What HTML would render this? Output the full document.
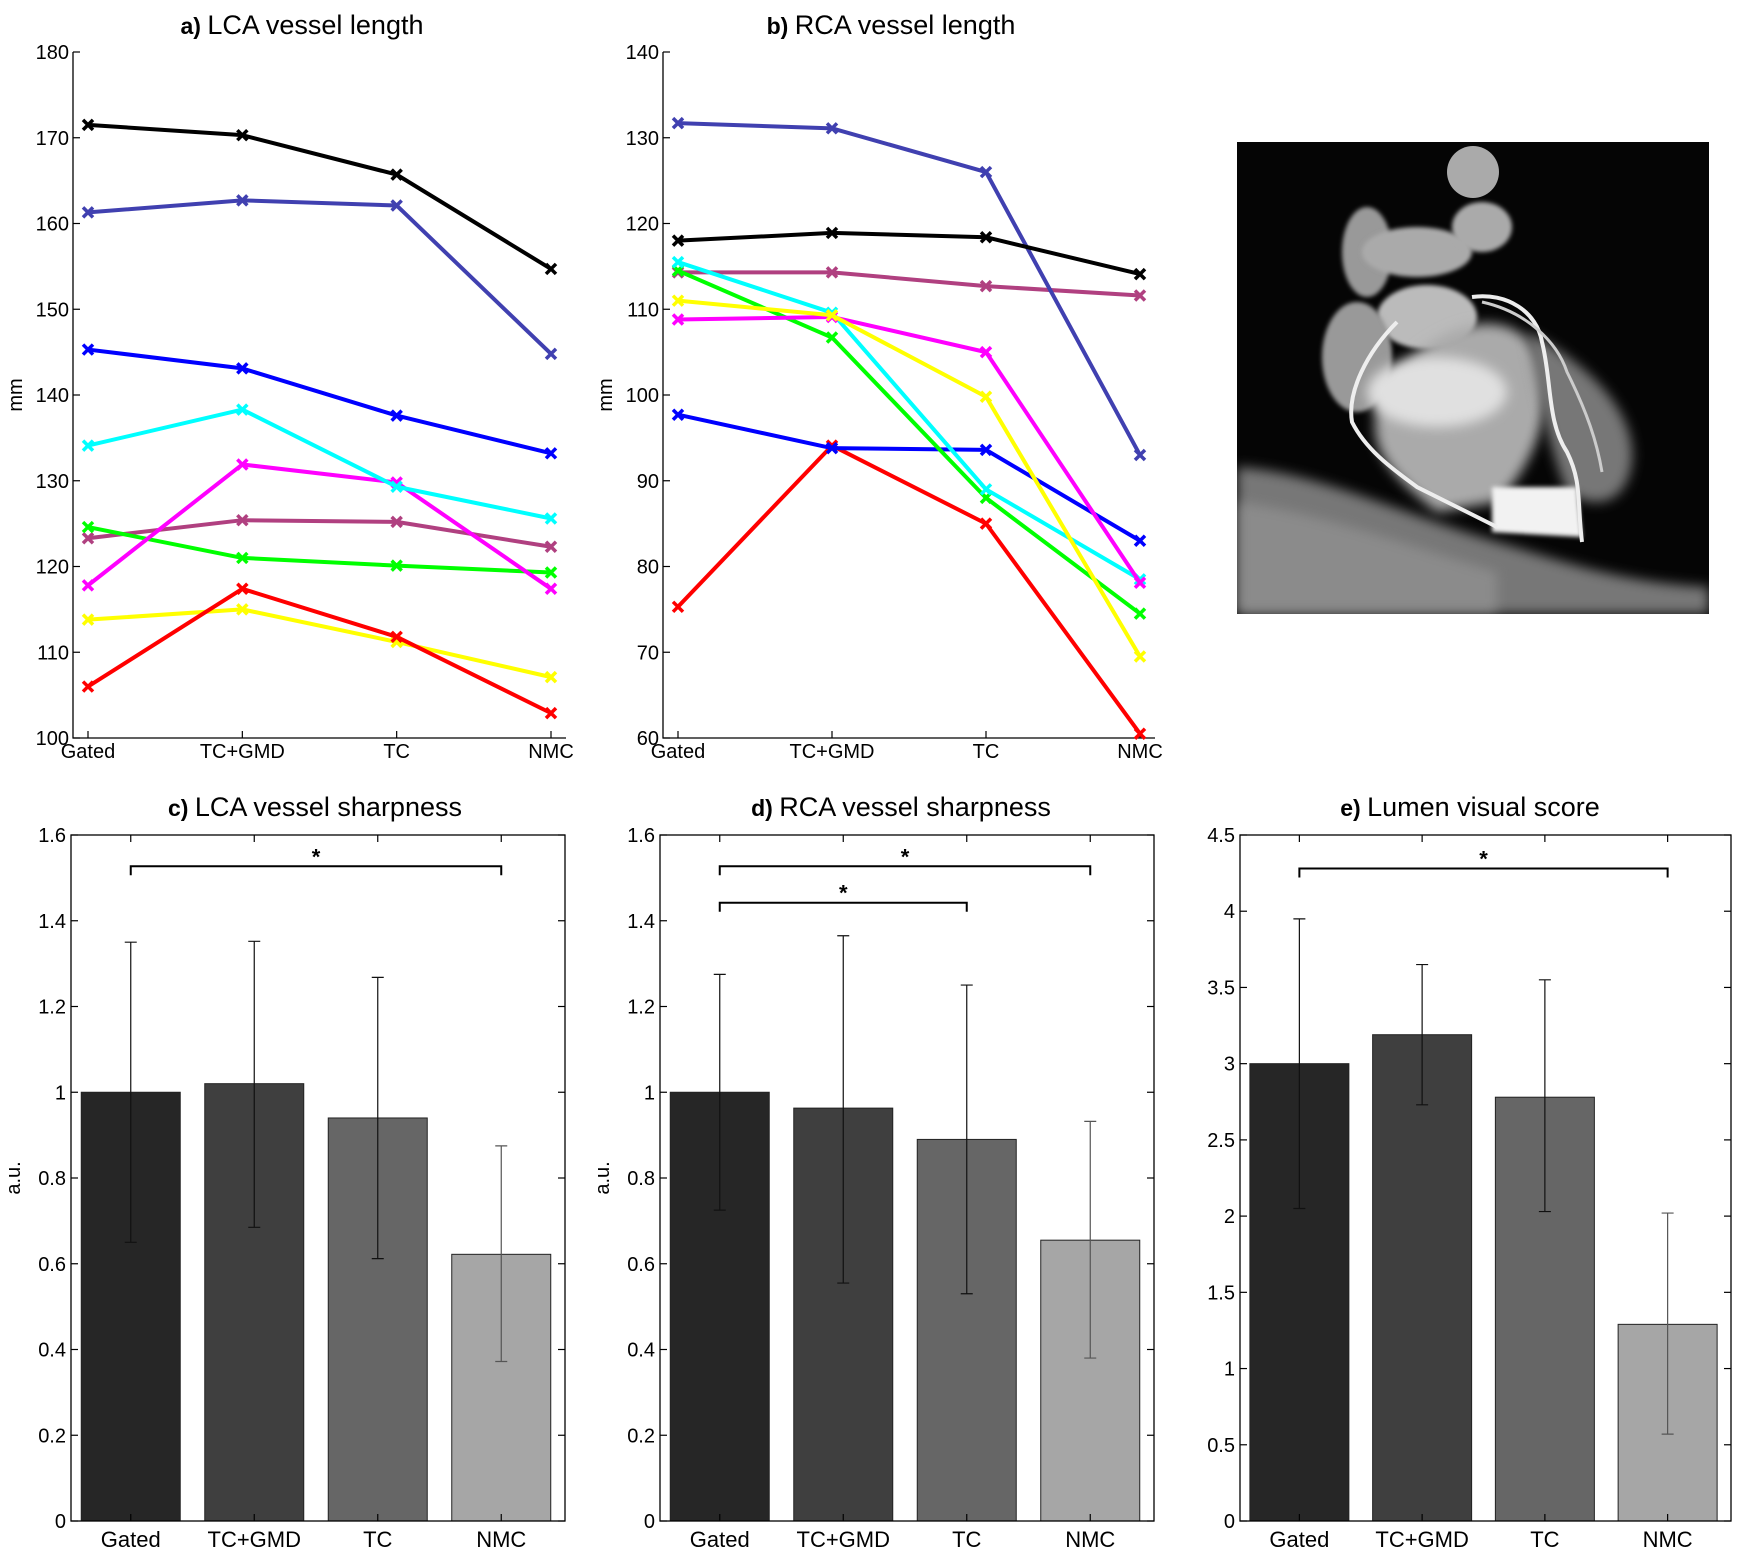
<!DOCTYPE html>
<html><head><meta charset="utf-8"><style>
html,body{margin:0;padding:0;background:#fff;}
svg{display:block;font-family:"Liberation Sans",sans-serif;}
</style></head><body>
<svg id="s" width="1740" height="1553" viewBox="0 0 1740 1553" xmlns="http://www.w3.org/2000/svg">
<defs>
<filter id="bl" x="-20%" y="-20%" width="140%" height="140%"><feGaussianBlur stdDeviation="6"/></filter>
<filter id="bl2"><feGaussianBlur stdDeviation="2"/></filter>
<clipPath id="imgclip"><rect x="0" y="0" width="472" height="472"/></clipPath>
</defs>
<g id="mri" transform="translate(1237,142)">
<g clip-path="url(#imgclip)">
<rect width="472" height="472" fill="#050505"/>
<path d="M0 325 C80 330 160 370 260 400 C330 420 380 440 472 445 L472 472 L0 472 Z" fill="#777" filter="url(#bl)"/>
<path d="M0 360 C80 370 160 400 260 430 L260 472 L0 472Z" fill="#999" filter="url(#bl)" opacity="0.6"/>
<ellipse cx="130" cy="110" rx="25" ry="45" fill="#999" filter="url(#bl2)"/>
<ellipse cx="180" cy="110" rx="55" ry="25" fill="#aaa" filter="url(#bl2)"/>
<ellipse cx="245" cy="85" rx="30" ry="25" fill="#aaa" filter="url(#bl2)"/>
<circle cx="236" cy="30" r="26" fill="#aaa"/>
<ellipse cx="190" cy="175" rx="50" ry="32" fill="#bbb" filter="url(#bl2)"/>
<ellipse cx="120" cy="215" rx="35" ry="55" fill="#999" filter="url(#bl2)"/>
<path d="M150 240 C200 180 270 160 300 210 C320 260 300 320 260 360 L200 370 C150 330 120 300 150 240Z" fill="#aaa" filter="url(#bl)"/>
<ellipse cx="200" cy="250" rx="70" ry="35" fill="#e0e0e0" filter="url(#bl)"/>
<path d="M290 190 C350 220 400 270 395 320 C390 360 360 370 330 350 C310 300 300 240 290 190Z" fill="#777" filter="url(#bl)"/>
<path d="M255 345 L340 345 L345 395 L255 390Z" fill="#f2f2f2" filter="url(#bl2)"/>
<path d="M160 180 C130 210 110 250 115 280 C130 310 160 330 180 345 C210 360 230 370 260 385" fill="none" stroke="#eee" stroke-width="4"/>
<path d="M235 155 C270 150 300 170 305 200 C315 240 310 280 330 310 C345 340 340 360 345 400" fill="none" stroke="#eee" stroke-width="4"/>
<path d="M245 160 C290 170 320 200 330 230 C350 270 360 300 365 330" fill="none" stroke="#ccc" stroke-width="3"/>
</g></g>
</svg>
<script>
// ---- data: line panels ----
const lineCats = ["Gated","TC+GMD","TC","NMC"];
const lcaBlack   = [171.5,170.3,165.7,154.7];
const lcaSlate   = [161.3,162.7,162.1,144.8];
const lcaBlue    = [145.3,143.1,137.6,133.2];
const lcaCyan    = [134.1,138.3,129.3,125.6];
const lcaMagenta = [117.8,131.9,129.8,117.4];
const lcaMauve   = [123.3,125.4,125.2,122.3];
const lcaGreen   = [124.6,121.0,120.1,119.3];
const lcaYellow  = [113.8,115.0,111.2,107.1];
const lcaRed     = [106.0,117.4,111.8,102.9];
const lcaTicks   = [100,110,120,130,140,150,160,170,180];

const rcaBlack   = [118.0,118.9,118.4,114.1];
const rcaSlate   = [131.7,131.1,126.0,93.0];
const rcaMauve   = [114.3,114.3,112.7,111.6];
const rcaCyan    = [115.5,109.6,89.0,78.5];
const rcaGreen   = [114.5,106.7,88.0,74.5];
const rcaYellow  = [111.0,109.3,99.8,69.5];
const rcaMagenta = [108.8,109.1,105.0,78.1];
const rcaBlue    = [97.7,93.8,93.6,83.0];
const rcaRed     = [75.3,94.1,85.0,60.5];
const rcaTicks   = [60,70,80,90,100,110,120,130,140];

// ---- data: bar panels ----
const barCats = ["Gated","TC+GMD","TC","NMC"];
const lcaSharp = [1.0,1.02,0.94,0.622];
const lcaSharpLo = [0.65,0.685,0.612,0.372];
const lcaSharpHi = [1.35,1.352,1.268,0.875];
const rcaSharp = [1.0,0.963,0.89,0.655];
const rcaSharpLo = [0.725,0.555,0.53,0.38];
const rcaSharpHi = [1.275,1.365,1.25,0.932];
const lumen = [3.0,3.19,2.78,1.29];
const lumenLo = [2.05,2.73,2.03,0.57];
const lumenHi = [3.95,3.65,3.55,2.02];
const sharpTicks = [0,0.2,0.4,0.6,0.8,1,1.2,1.4,1.6];
const sharpTickLabels = ["0","0.2","0.4","0.6","0.8","1","1.2","1.4","1.6"];
const lumenTicks = [0,0.5,1,1.5,2,2.5,3,3.5,4,4.5];
const lumenTickLabels = ["0","0.5","1","1.5","2","2.5","3","3.5","4","4.5"];

const S = document.getElementById('s');
const NS = "http://www.w3.org/2000/svg";
function mk(tag, attrs, parent){
  const e = document.createElementNS(NS, tag);
  for (const k in attrs) e.setAttribute(k, attrs[k]);
  (parent||S).appendChild(e);
  return e;
}
function txt(str, x, y, size, anchor, parent, weight){
  const t = mk('text', {x:x, y:y, 'font-size':size, 'text-anchor':anchor||'middle', fill:'#000'}, parent);
  if (weight) t.setAttribute('font-weight', weight);
  t.textContent = str;
  return t;
}

function title(g, cx, y, letter, rest){
  const t = mk('text', {x:cx, y:y, 'font-size':27, 'text-anchor':'middle', fill:'#000'}, g);
  
  
  const a = mk('tspan', {'font-weight':'bold', 'font-size':23}, t); a.textContent = letter + " ";
  const b = mk('tspan', {}, t); b.textContent = rest;
}

function linePanel(name, x0, x1, y0, y1, ymin, ymax, ticks, series, ttl, tcx){
  const g = mk('g', {});
  
  
  const pad = 15;
  const xs = i => x0 + pad + i * (x1 - x0 - 2*pad) / 3;
  const ys = v => y1 - (v - ymin) / (ymax - ymin) * (y1 - y0);
  title(g, tcx, 34, ttl[0], ttl[1]);
  const ax = mk('path', {d:`M${x0} ${y0}V${y1}H${x1}`, stroke:'#000', 'stroke-width':1.3, fill:'none'}, g);
  
  
  ticks.forEach(v => {
    mk('line', {x1:x0, x2:x0+7, y1:ys(v), y2:ys(v), stroke:'#000', 'stroke-width':1.2}, g);
    const t = txt(String(v), x0-4, ys(v)+7, 20, 'end', g);
    
    
  });
  lineCats.forEach((c,i) => {
    mk('line', {x1:xs(i), x2:xs(i), y1:y1, y2:y1-7, stroke:'#000', 'stroke-width':1.2}, g);
    const t = txt(c, xs(i), y1+20, 20, 'middle', g);
    
    
  });
  const yl = txt('mm', 0, 0, 20, 'middle', g);
  yl.setAttribute('transform', `translate(${x0-51},${(y0+y1)/2}) rotate(-90)`);
  
  
  series.forEach(s => {
    const pts = s.v.map((v,i) => `${xs(i)},${ys(v)}`).join(' ');
    const pl = mk('polyline', {points:pts, fill:'none', stroke:s.c, 'stroke-width':4, 'stroke-linejoin':'round'}, g);
    
    
    s.v.forEach((v,i) => {
      const X = xs(i), Y = ys(v), r = 5;
      const m = mk('path', {d:`M${X-r} ${Y-r}L${X+r} ${Y+r}M${X-r} ${Y+r}L${X+r} ${Y-r}`, stroke:s.c, 'stroke-width':3.5}, g);
      
      
    });
  });
}

function barPanel(name, x0, x1, y0, y1, ymax, vals, lo, hi, ticks, tickLabels, ttl, ylab, brackets, tcx){
  const g = mk('g', {});
  
  
  const step = (x1 - x0) / 4;
  const xs = i => x0 + step * (i + 0.5) - 2;
  const ys = v => y1 - v / ymax * (y1 - y0);
  const bw = 99;
  const cols = ['#262626','#3f3f3f','#666666','#a6a6a6'];
  title(g, tcx, 816, ttl[0], ttl[1]);
  vals.forEach((v,i) => {
    const b = mk('rect', {x:xs(i)-bw/2, y:ys(v), width:bw, height:y1-ys(v), fill:cols[i], stroke:'#222', 'stroke-width':1}, g);
    
    
  });
  vals.forEach((v,i) => {
    const X = xs(i);
    const e = mk('path', {d:`M${X} ${ys(lo[i])}V${ys(hi[i])}M${X-6} ${ys(hi[i])}H${X+6}M${X-6} ${ys(lo[i])}H${X+6}`, stroke: i===3 ? '#555' : '#111', 'stroke-width':1.2, fill:'none'}, g);
    
    
  });
  const box = mk('rect', {x:x0, y:y0, width:x1-x0, height:y1-y0, fill:'none', stroke:'#000', 'stroke-width':1.3}, g);
  
  
  ticks.forEach((v,k) => {
    mk('line', {x1:x0, x2:x0+7, y1:ys(v), y2:ys(v), stroke:'#000', 'stroke-width':1.2}, g);
    mk('line', {x1:x1, x2:x1-7, y1:ys(v), y2:ys(v), stroke:'#000', 'stroke-width':1.2}, g);
    const t = txt(tickLabels[k], x0-5, ys(v)+7, 20, 'end', g);
    
    
  });
  barCats.forEach((c,i) => {
    mk('line', {x1:xs(i), x2:xs(i), y1:y1, y2:y1-7, stroke:'#000', 'stroke-width':1.2}, g);
    mk('line', {x1:xs(i), x2:xs(i), y1:y0, y2:y0+7, stroke:'#000', 'stroke-width':1.2}, g);
    const t = txt(c, xs(i), y1+26, 22, 'middle', g);
    
    
  });
  if (ylab){
    const yl = txt(ylab, 0, 0, 20, 'middle', g);
    yl.setAttribute('transform', `translate(${x0-51},${(y0+y1)/2}) rotate(-90)`);
    
    
  }
  brackets.forEach(br => {
    const Y = ys(br[2]), a = xs(br[0]), b = xs(br[1]);
    const p = mk('path', {d:`M${a} ${Y+9}V${Y}H${b}V${Y+9}`, stroke:'#000', 'stroke-width':2, fill:'none'}, g);
    
    
    const t = txt('*', (a+b)/2, Y-2, 22, 'middle', g, 'bold');
    
    
  });
}

linePanel('lca-length-chart', 73, 566, 52, 738, 100, 180, lcaTicks, [
  {c:'#b04080', v:lcaMauve}, {c:'#00ff00', v:lcaGreen}, {c:'#ffff00', v:lcaYellow},
  {c:'#ff0000', v:lcaRed}, {c:'#ff00ff', v:lcaMagenta}, {c:'#00ffff', v:lcaCyan},
  {c:'#0000ff', v:lcaBlue}, {c:'#4040b0', v:lcaSlate}, {c:'#000000', v:lcaBlack}
], ['a)','LCA vessel length'], 302);
linePanel('rca-length-chart', 663, 1155, 52, 738, 60, 140, rcaTicks, [
  {c:'#b04080', v:rcaMauve}, {c:'#ff0000', v:rcaRed}, {c:'#0000ff', v:rcaBlue},
  {c:'#00ff00', v:rcaGreen}, {c:'#00ffff', v:rcaCyan}, {c:'#ff00ff', v:rcaMagenta},
  {c:'#ffff00', v:rcaYellow}, {c:'#4040b0', v:rcaSlate}, {c:'#000000', v:rcaBlack}
], ['b)','RCA vessel length'], 891);

barPanel('lca-sharpness-chart', 71, 565, 835, 1521, 1.6, lcaSharp, lcaSharpLo, lcaSharpHi, sharpTicks, sharpTickLabels, ['c)','LCA vessel sharpness'], 'a.u.', [[0,3,1.527]], 315);
barPanel('rca-sharpness-chart', 660, 1154, 835, 1521, 1.6, rcaSharp, rcaSharpLo, rcaSharpHi, sharpTicks, sharpTickLabels, ['d)','RCA vessel sharpness'], 'a.u.', [[0,3,1.527],[0,2,1.442]], 901);
barPanel('lumen-score-chart', 1240, 1731, 835, 1521, 4.5, lumen, lumenLo, lumenHi, lumenTicks, lumenTickLabels, ['e)','Lumen visual score'], null, [[0,3,4.28]], 1470);
</script>
</body></html>
